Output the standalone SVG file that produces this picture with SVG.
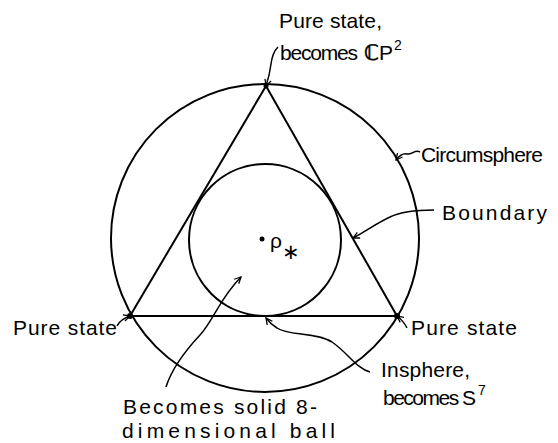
<svg xmlns="http://www.w3.org/2000/svg" width="558" height="443" viewBox="0 0 558 443">
<style>
.t{font-family:"Liberation Sans","DejaVu Sans",sans-serif;font-size:21px;fill:#000}
.sup{font-family:"Liberation Sans","DejaVu Sans",sans-serif;font-size:14px;fill:#000}
.ln{fill:none;stroke:#000;stroke-width:2}
.ld{fill:none;stroke:#000;stroke-width:1.5;marker-end:url(#ah)}
</style>
<defs>
<marker id="ah" viewBox="0 0 10 10" refX="9" refY="5" markerWidth="8" markerHeight="8" markerUnits="userSpaceOnUse" orient="auto">
<path d="M1,1 L9,5 L1,9" fill="none" stroke="#000" stroke-width="1.6"/>
</marker>
</defs>
<rect width="558" height="443" fill="#fff"/>
<g id="circumsphere"><circle class="ln" cx="265" cy="238" r="154"/></g>
<g id="insphere"><circle class="ln" cx="265" cy="240" r="76"/></g>
<g id="triangle">
<path class="ln" d="M266,86 L130,316" stroke-width="2.6"/>
<path class="ln" d="M266,86 L397,316" stroke-width="2.6"/>
<path class="ln" d="M130,316 L397,316" stroke-width="1.8"/>
<circle cx="266" cy="86" r="2.5"/>
<circle cx="130" cy="316" r="3"/>
<circle cx="397" cy="316" r="3"/>
</g>
<g id="center">
<circle cx="262" cy="239" r="2.5"/>
<text class="t" x="270" y="248">ρ</text>
<text class="t" x="282" y="259" font-size="17">∗</text>
</g>
<g id="label-top">
<text class="t" x="279" y="28" textLength="103" lengthAdjust="spacing">Pure state,</text>
<text class="t" x="280" y="60" textLength="78" lengthAdjust="spacing">becomes</text>
<text class="t" x="364" y="60" font-size="22" stroke="#000" stroke-width="0.6" font-family="DejaVu Sans, sans-serif">ℂ</text>
<text class="t" x="379" y="60">P</text>
<text class="sup" x="394" y="50">2</text>
</g>
<g id="label-circumsphere"><text class="t" x="421" y="162" textLength="122" lengthAdjust="spacing">Circumsphere</text></g>
<g id="label-boundary"><text class="t" x="442" y="220" textLength="105" lengthAdjust="spacing">Boundary</text></g>
<g id="label-left"><text class="t" x="13" y="335" textLength="104" lengthAdjust="spacing">Pure state</text></g>
<g id="label-right"><text class="t" x="411" y="335" textLength="106" lengthAdjust="spacing">Pure state</text></g>
<g id="label-insphere">
<text class="t" x="381" y="377" textLength="89" lengthAdjust="spacing">Insphere,</text>
<text class="t" x="383" y="405" textLength="93" lengthAdjust="spacing">becomes S</text>
<text class="sup" x="478" y="395">7</text>
</g>
<g id="label-ball">
<text class="t" x="123" y="414" textLength="194" lengthAdjust="spacing">Becomes solid 8-</text>
<text class="t" x="122" y="438" textLength="213" lengthAdjust="spacing">dimensional ball</text>
</g>
<g id="connectors">
<path class="ld" d="M278,47 C274,51 272,56 271,64 C270,72 268,80 266,86"/>
<path class="ld" d="M420,152 C415,149 412,155 407,154 C403,153 400,155 396,160"/>
<path class="ld" d="M434,210 C415,210 400,212 390,217 C375,224 365,232 353,238"/>
<path class="ld" d="M117,326 C120,320 124,318 130,316"/>
<path class="ld" d="M407,328 C404,322 401,319 397,316"/>
<path class="ld" d="M370,372 C357,369 348,353 332,342 C316,332 288,336 277,328 C272,325 269,322 266,318"/>
<path class="ld" d="M166,387 C172,368 186,350 200,335 C213,321 220,298 241,277"/>
</g>
</svg>
